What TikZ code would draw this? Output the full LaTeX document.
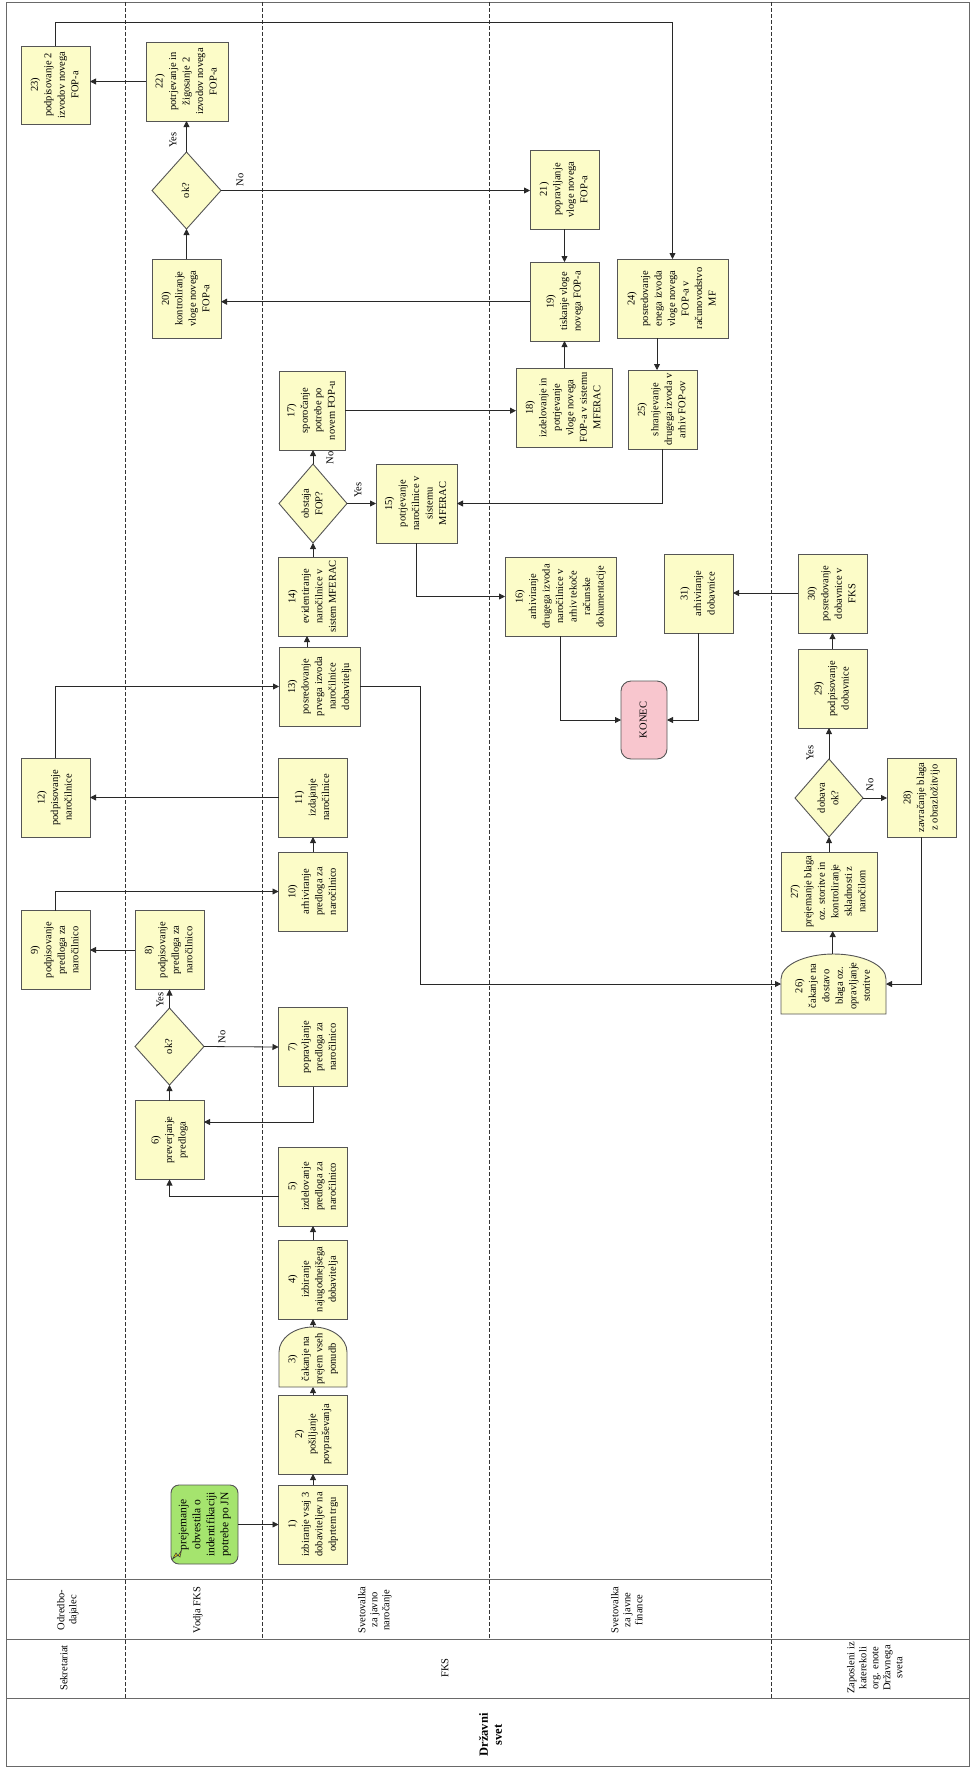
\documentclass[tikz,border=0pt]{standalone}
\usepackage{fontspec}
\setmainfont{Liberation Serif}
\usetikzlibrary{arrows.meta,shapes.geometric,calc,backgrounds}

\definecolor{taskfill}{RGB}{252,252,200}
\definecolor{taskline}{RGB}{85,85,85}
\definecolor{startfill}{RGB}{165,228,110}
\definecolor{endfill}{RGB}{248,198,206}
\definecolor{laneline}{RGB}{105,105,105}
\definecolor{flowline}{RGB}{40,40,40}

% text turned a quarter turn, lines set centred
\newcommand{\vtext}[1]{\rotatebox{90}{\begin{tabular}{@{}c@{}}#1\end{tabular}}}

% outline of a "delay" box: flat bottom, rounded top
\newcommand{\dlyoutline}[3]{%
  \path[dlyshape] (#1.south west) -- ($(#1.north west)+(0,#3)$)
    .. controls ($(#1.north west)+(0,0.45*#3)$) and ($(#1.north)+(-0.552*#2,0)$) .. (#1.north)
    .. controls ($(#1.north)+(0.552*#2,0)$) and ($(#1.north east)+(0,0.45*#3)$) .. ($(#1.north east)+(0,#3)$)
    -- (#1.south east) -- cycle;}

\tikzset{
  every node/.style={font=\fontsize{10.5}{13.5}\selectfont, inner sep=0pt, outer sep=0pt},
  task/.style={draw=taskline, fill=taskfill, line width=0.9pt, minimum width=69pt, minimum height=79pt},
  delaybox/.style={minimum width=68pt, minimum height=60pt},
  dlyshape/.style={draw=taskline, fill=taskfill, line width=0.9pt},
  gate/.style={diamond, draw=taskline, fill=taskfill, line width=0.9pt, minimum width=69pt, minimum height=77pt},
  startev/.style={draw=taskline, fill=startfill, line width=0.9pt, rounded corners=8pt, minimum width=67pt, minimum height=79pt, font=\fontsize{11.5}{14}\selectfont},
  endev/.style={draw=taskline, fill=endfill, line width=0.9pt, rounded corners=10pt, minimum width=46pt, minimum height=78pt},
  arr/.style={draw=flowline, line width=0.8pt, -{Triangle[length=6pt,width=6pt]}},
  lane/.style={draw=laneline, line width=0.9pt},
  lanedash/.style={draw=black!80, line width=0.7pt, dash pattern=on 4pt off 2pt},
  lbl/.style={font=\fontsize{10.5}{12.5}\selectfont},
  head/.style={font=\fontsize{10.5}{12}\selectfont},
}

\begin{document}
\begin{tikzpicture}[x=1pt, y=-1pt]
\useasboundingbox (0,0) rectangle (971,1769);

% ---------- pool frame and lanes ----------
\draw[lane] (6,2) rectangle (969.5,1766);
\draw[lane] (6,1579) -- (771,1579);
\draw[lane] (6,1639) -- (969.5,1639);
\draw[lane] (6,1698) -- (969.5,1698);
\draw[lanedash] (125,2) -- (125,1698);
\draw[lanedash] (262.5,2) -- (262.5,1639);
\draw[lanedash] (489,2) -- (489,1639);
\draw[lanedash] (771,2) -- (771,1698);

% ---------- lane titles ----------
\node[head] (hOd) at (68,1610) {\vtext{Odredbo-\\dajalec}};
\node[head] (hVo) at (198,1610) {\vtext{Vodja FKS}};
\node[head] (hSj) at (375,1610) {\vtext{Svetovalka\\za javno\\naročanje}};
\node[head] (hSf) at (628,1610) {\vtext{Svetovalka\\za javne\\finance}};
\node[head] (hSe) at (65,1668) {\vtext{Sekretariat}};
\node[head] (hFk) at (446,1668) {\vtext{FKS}};
\node[head] (hZa) at (876,1668) {\vtext{Zaposleni iz\\katerekoli\\org. enote\\Državnega\\sveta}};
\node[font=\fontsize{12.5}{14}\selectfont\bfseries] (hDs) at (492,1735) {\vtext{Državni\\svet}};

% ---------- activities ----------
\node[startev] (st) at (204.5,1524.5) {\vtext{prejemanje\\obvestila o\\indentifikaciji\\potrebe po JN}};
\draw[draw=black!75, fill=yellow!80!olive, line width=0.6pt]
  (172.5,1559) -- (176,1553) -- (178,1556) -- (181.5,1550) -- (180,1557) -- (178,1555) -- cycle;

\node[task] (n1) at (313,1524.5) {\vtext{1)\\izbiranje vsaj 3\\dobaviteljev na\\odprtem trgu}};
\node[task] (n2) at (313,1434.5) {\vtext{2)\\pošiljanje\\povpraševanja}};
\node[delaybox] (n3) at (313,1357) {};
\node[task] (n4) at (313,1279.5) {\vtext{4)\\izbiranje\\najugodnejšega\\dobavitelja}};
\node[task] (n5) at (313,1186.5) {\vtext{5)\\izdelovanje\\predloga za\\naročilnico}};
\node[task] (n6) at (169.5,1140) {\vtext{6)\\preverjanje\\predloga}};
\node[gate] (d1) at (169.5,1046.5) {\vtext{ok?}};
\node[task] (n7) at (313,1047) {\vtext{7)\\popravljanje\\predloga za\\naročilnico}};
\node[task] (n8) at (169.5,950) {\vtext{8)\\podpisovanje\\predloga za\\naročilnico}};
\node[task] (n9) at (55.5,950) {\vtext{9)\\podpisovanje\\predloga za\\naročilnico}};
\node[task] (n10) at (313,891.5) {\vtext{10)\\arhiviranje\\predloga za\\naročilnico}};
\node[task] (n11) at (313,797.5) {\vtext{11)\\izdajanje\\naročilnice}};
\node[task] (n12) at (55.5,797.5) {\vtext{12)\\podpisovanje\\naročilnice}};
\node[task, minimum width=81pt] (n13) at (319.5,686.5) {\vtext{13)\\posredovanje\\prvega izvoda\\naročilnice\\dobavitelju}};
\node[task] (n14) at (313,596.5) {\vtext{14)\\evidentiranje\\naročilnice v\\sistem MFERAC}};
\node[gate, minimum width=68pt, minimum height=79pt] (d2) at (313,503.5) {\vtext{obstaja\\FOP?}};
\node[task, minimum width=81pt] (n15) at (416.5,503.5) {\vtext{15)\\potrjevanje\\naročilnice v\\sistemu\\MFERAC}};
\node[task, minimum width=111pt] (n16) at (560.5,596.5) {\vtext{16)\\arhiviranje\\drugega izvoda\\naročilnice v\\arhiv tekoče\\računske\\dokumentacije}};
\node[task, minimum width=66pt] (n17) at (312,410.5) {\vtext{17)\\sporočanje\\potrebe po\\novem FOP-u}};
\node[task, minimum width=96pt] (n18) at (564,407.5) {\vtext{18)\\izdelovanje in\\potrjevanje\\vloge novega\\FOP-a v sistemu\\MFERAC}};
\node[task] (n19) at (564.5,301.5) {\vtext{19)\\tiskanje vloge\\novega FOP-a}};
\node[task] (n20) at (186.5,298.5) {\vtext{20)\\kontroliranje\\vloge novega\\FOP-a}};
\node[gate] (d3) at (186.5,190.5) {\vtext{ok?}};
\node[task] (n21) at (564.5,189.5) {\vtext{21)\\popravljanje\\vloge novega\\FOP-a}};
\node[task, minimum width=82pt] (n22) at (187,81.5) {\vtext{22)\\potrjevanje in\\žigosanje 2\\izvodov novega\\FOP-a}};
\node[task, minimum height=78pt] (n23) at (55.5,85) {\vtext{23)\\podpisovanje 2\\izvodov novega\\FOP-a}};
\node[task, minimum width=111pt] (n24) at (672.5,298.5) {\vtext{24)\\posredovanje\\enega izvoda\\vloge novega\\FOP-a v\\računovodstvo\\MF}};
\node[task] (n25) at (662.5,409.5) {\vtext{25)\\shranjevanje\\drugega izvoda v\\arhiv FOP-ov}};
\node[endev] (ko) at (644,720) {\vtext{KONEC}};
\node[task] (n31) at (698.5,593.5) {\vtext{31)\\arhiviranje\\dobavnice}};
\node[task] (n30) at (832.5,593.5) {\vtext{30)\\posredovanje\\dobavnice v\\FKS}};
\node[task] (n29) at (832.5,688.5) {\vtext{29)\\podpisovanje\\dobavnice}};
\node[gate, minimum width=68pt, minimum height=78pt] (d4) at (829,798) {\vtext{dobava\\ok?}};
\node[task] (n28) at (921.5,797.5) {\vtext{28)\\zavračanje blaga\\z obrazložitvijo}};
\node[task, minimum width=96pt] (n27) at (829,891.5) {\vtext{27)\\prejemanje blaga\\oz. storitve in\\kontroliranje\\skladnosti z\\naročilom}};
\node[delaybox, minimum width=105pt] (n26) at (833.5,984) {};

% delay boxes: outline behind, text on top
\begin{scope}[on background layer]
  \dlyoutline{n3}{34}{25}
  \dlyoutline{n26}{52.5}{25}
\end{scope}
\node (n3t) at (313,1359) {\vtext{3)\\čakanje na\\prejem vseh\\ponudb}};
\node (n26t) at (833.5,986) {\vtext{26)\\čakanje na\\dostavo\\blaga oz.\\opravljanje\\storitve}};

% ---------- sequence flows ----------
\coordinate (t23) at (0,22.7);
\coordinate (k13) at (420.7,686.5);

\draw[arr] (st.east) -- (n1.west);
\draw[arr] (n1.north) -- (n2.south);
\draw[arr] (n2.north) -- (n3.south);
\draw[arr] (n3.north) -- (n4.south);
\draw[arr] (n4.north) -- (n5.south);
\draw[arr] ($(n5.west)+(0,9.5)$) -| (n6.south);
\draw[arr] (n6.north) -- (d1.south);
\draw[arr] (d1.north) -- (n8.south);
\draw[arr] (d1.east) -- (n7.west);
\draw[arr] (n7.south) |- ($(n6.east)+(0,-18)$);
\draw[arr] (n8.west) -- (n9.east);
\draw[arr] (n9.north) |- (n10.west);
\draw[arr] (n10.north) -- (n11.south);
\draw[arr] (n11.west) -- (n12.east);
\draw[arr] (n12.north) |- (n13.west);
\draw[arr] ([xshift=-6pt]n14.south |- n13.north) -- ([xshift=-6pt]n14.south);
\draw[arr] (n14.north) -- (d2.south);
\draw[arr] (d2.north) -- (n17.south -| d2.north);
\draw[arr] (d2.east) -- (n15.west);
\draw[arr] (n15.south) |- (n16.west);
\draw[arr] (n17.east |- 0,410.7) -- (n18.west |- 0,410.7);
\draw[arr] (n19.south |- n18.north) -- (n19.south);
\draw[arr] (n19.west |- 0,301.7) -- (n20.east |- 0,301.7);
\draw[arr] (n20.north) -- (d3.south);
\draw[arr] (d3.north) -- (d3.north |- n22.south);
\draw[arr] (d3.east) -- (d3.east -| n21.west);
\draw[arr] (n21.south) -- (n19.north);
\draw[arr] (n22.west) -- (n22.west -| n23.east);
\draw[arr] (n23.north) -- (n23.north |- t23) -| (n24.north);
\draw[arr] ([xshift=-5.5pt]n25.north |- n24.south) -- ([xshift=-5.5pt]n25.north);
\draw[arr] (n25.south) |- (n15.east);
\draw[arr] (n16.south) |- (ko.west);
\draw[arr] (n31.south) |- (ko.east);
\draw[arr] (n30.west |- 0,593) -- (n31.east |- 0,593);
\draw[arr] (n29.north) -- (n30.south);
\draw[arr] (d4.north) -- (d4.north |- n29.south);
\draw[arr] (d4.east) -- (n28.west |- d4.east);
\draw[arr] (n27.north) -- (d4.south);
\draw[arr] (n26.north -| 832.7,0) -- (n27.south -| 832.7,0);
\draw[arr] (n28.south) |- (n26.east);
\draw[arr] (n13.east |- k13) -- (k13) |- (n26.west);

% ---------- gateway labels ----------
\node[lbl] (y1) at (160,1000) {\rotatebox{90}{Yes}};
\node[lbl] (o1) at (222,1037) {\rotatebox{90}{No}};
\node[lbl] (o2) at (330,458) {\rotatebox{90}{No}};
\node[lbl] (y2) at (358,490) {\rotatebox{90}{Yes}};
\node[lbl] (y3) at (173,140) {\rotatebox{90}{Yes}};
\node[lbl] (o3) at (240,180) {\rotatebox{90}{No}};
\node[lbl] (y4) at (810,753) {\rotatebox{90}{Yes}};
\node[lbl] (o4) at (870,785) {\rotatebox{90}{No}};
\end{tikzpicture}
\end{document}
